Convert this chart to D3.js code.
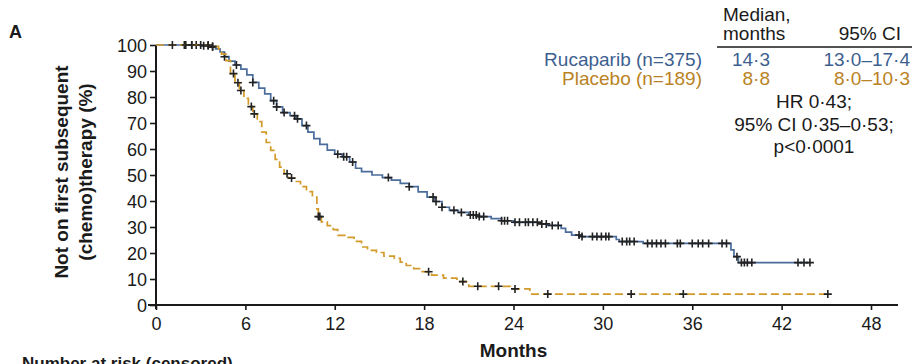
<!DOCTYPE html>
<html>
<head>
<meta charset="utf-8">
<script src="https://cdn.jsdelivr.net/npm/d3@7"></script>
<style>
  html, body { margin: 0; padding: 0; background: #fff; }
  svg { display: block; font-family: "Liberation Sans", Arial, sans-serif; }
</style>
</head>
<body>
<svg id="chart" width="917" height="364"></svg>
<script>
// Kaplan–Meier step points: [month, % not on first subsequent therapy]
const rucaparibSteps = [
  [0, 100], [3.0, 99.7], [3.6, 99.2], [4.0, 98.5], [4.3, 97.3], [4.6, 95.5], [4.9, 93.8],
  [5.3, 92.3], [5.7, 90.7], [6.1, 88.5], [6.5, 85.6], [6.9, 83.4], [7.3, 81.2], [7.7, 78.6],
  [8.1, 76.2], [8.5, 74.0], [9.0, 72.8], [9.4, 71.6], [9.8, 69.0], [10.2, 66.5], [10.6, 64.0],
  [11.0, 61.8], [11.5, 59.6], [12.0, 58.0], [12.5, 57.0], [13.0, 55.0], [13.4, 52.6],
  [13.8, 51.3], [14.5, 50.0], [15.2, 49.0], [15.8, 48.0], [16.4, 46.8], [17.0, 45.5],
  [17.6, 43.5], [18.2, 41.5], [18.7, 39.8], [19.2, 37.6], [19.7, 36.4], [20.3, 35.6],
  [21.0, 34.6], [21.7, 34.0], [22.5, 33.2], [23.2, 32.4], [24.0, 31.8], [25.8, 31.2],
  [26.3, 30.6], [27.2, 29.5], [27.5, 28.0], [27.9, 26.9], [28.6, 26.3], [30.9, 25.2],
  [31.1, 24.4], [32.7, 23.7], [38.6, 21.2], [38.8, 18.6], [39.1, 16.3]
];
const rucaparibEnd = 43.9;
const rucaparibCensored = [
  1.9, 2.4, 2.7, 3.2, 3.5, 3.8, 4.6, 5.4, 6.5, 7.9, 8.1, 8.6, 9.3, 9.5, 10.1, 12.2, 12.6,
  12.8, 13.2, 15.6, 17.0, 18.6, 18.8, 19.2, 20.0, 20.5, 21.1, 21.3, 21.5, 21.7, 22.0, 23.2,
  23.4, 23.6, 24.1, 24.4, 24.8, 25.0, 25.3, 25.6, 25.9, 26.2, 26.6, 27.0, 28.4, 28.6, 29.3,
  29.6, 29.9, 30.2, 30.4, 31.3, 31.6, 31.8, 32.1, 33.0, 33.3, 33.6, 33.9, 34.2, 35.0, 35.2,
  36.0, 36.4, 36.7, 37.1, 38.0, 38.3, 39.0, 39.3, 39.5, 39.7, 40.0, 43.1, 43.5, 43.9
];

const placeboSteps = [
  [0, 100], [3.8, 99.5], [4.2, 98.5], [4.4, 96.5], [4.7, 94.0], [5.0, 89.0], [5.3, 85.5],
  [5.6, 82.5], [5.9, 79.5], [6.2, 76.3], [6.5, 73.5], [6.8, 70.5], [7.1, 66.5], [7.4, 62.5],
  [7.7, 59.5], [8.0, 56.0], [8.3, 53.0], [8.6, 50.5], [8.9, 48.8], [9.3, 47.5], [9.7, 45.5],
  [10.1, 43.6], [10.5, 41.5], [10.8, 37.0], [10.9, 34.0], [11.1, 32.0], [11.5, 30.5],
  [11.9, 29.0], [12.2, 26.8], [12.9, 26.0], [13.3, 24.5], [13.8, 22.3], [14.2, 21.0],
  [14.8, 20.2], [15.3, 18.8], [16.0, 17.9], [16.4, 16.5], [16.8, 15.2], [17.3, 14.0],
  [17.8, 12.8], [18.5, 11.5], [19.3, 10.3], [20.2, 9.0], [21.0, 7.2], [23.8, 6.2], [25.1, 4.2]
];
const placeboEnd = 45.1;
const placeboCensored = [
  1.1, 2.0, 2.4, 3.0, 3.5, 3.8, 5.2, 5.5, 5.7, 6.4, 6.6, 8.8, 9.1, 10.9, 11.0,
  18.3, 20.6, 21.6, 23.0, 24.1, 26.3, 31.9, 35.4, 45.1
];

const xTicks = [0, 6, 12, 18, 24, 30, 36, 42, 48];
const yTicks = [0, 10, 20, 30, 40, 50, 60, 70, 80, 90, 100];

const legendHeader = ["Median,", "months", "95% CI"];
const legendRows = [
  { label: "Rucaparib (n=375)", median: "14·3", ci: "13·0–17·4", color: "#3d5f8f" },
  { label: "Placebo (n=189)", median: "8·8", ci: "8·0–10·3", color: "#b98224" }
];
const statsLines = ["HR 0·43;", "95% CI 0·35–0·53;", "p<0·0001"];

const BLUE = "#4a6d9c";
const ORANGE = "#d29a2a";
const INK = "#1a1a1a";

const svg = d3.select("#chart");

const x = d3.scaleLinear().domain([0, 48]).range([156, 871]);
const y = d3.scaleLinear().domain([0, 100]).range([305, 45]);

// Axes
const xAxis = svg.append("g")
  .attr("transform", `translate(0,${y(0)})`)
  .call(d3.axisBottom(x).tickValues(xTicks).tickSize(5).tickSizeOuter(0).tickPadding(4));
xAxis.select(".domain").remove();
xAxis.append("line")
  .attr("x1", 148).attr("x2", 898).attr("y1", 0).attr("y2", 0)
  .attr("stroke", INK).attr("stroke-width", 2);

const yAxis = svg.append("g")
  .attr("transform", `translate(${x(0)},0)`)
  .call(d3.axisLeft(y).tickValues(yTicks).tickSize(6).tickSizeOuter(0).tickPadding(3));
yAxis.select(".domain").remove();
yAxis.append("line")
  .attr("x1", 0).attr("x2", 0).attr("y1", y(100)).attr("y2", y(0) + 4)
  .attr("stroke", INK).attr("stroke-width", 2);

[xAxis, yAxis].forEach(g => {
  g.selectAll(".tick line").attr("stroke", INK).attr("stroke-width", 1.6);
  g.selectAll(".tick text")
    .attr("fill", INK)
    .style("font-size", "18px")
    .style("font-family", "'Liberation Sans', Arial, sans-serif");
});
xAxis.selectAll(".tick text").attr("dy", "0.9em");
yAxis.selectAll(".tick text").attr("dy", "0.34em");

// Step helpers
function stepValue(steps, t) {
  let v = steps[0][1];
  for (const [m, s] of steps) { if (m <= t) v = s; else break; }
  return v;
}
const stepLine = d3.line()
  .x(d => x(d[0]))
  .y(d => y(d[1]))
  .curve(d3.curveStepAfter);

function drawArm(steps, endMonth, censored, color, dash) {
  const pts = steps.concat([[endMonth, steps[steps.length - 1][1]]]);
  svg.append("path")
    .datum(pts)
    .attr("d", stepLine)
    .attr("fill", "none")
    .attr("stroke", color)
    .attr("stroke-width", 1.7)
    .attr("stroke-dasharray", dash || null);

  const marks = svg.append("g");
  censored.forEach(t => {
    const cx = x(t), cy = y(stepValue(steps, t));
    marks.append("path")
      .attr("d", `M${cx - 4},${cy}H${cx + 4}M${cx},${cy - 4}V${cy + 4}`)
      .attr("stroke", "#222")
      .attr("stroke-width", 1.6)
      .attr("fill", "none");
  });
}

drawArm(rucaparibSteps, rucaparibEnd, rucaparibCensored, BLUE, null);
drawArm(placeboSteps, placeboEnd, placeboCensored, ORANGE, "8,4");

// Axis titles
svg.append("text")
  .attr("transform", `translate(68,172) rotate(-90)`)
  .attr("text-anchor", "middle")
  .style("font-size", "19px").style("font-weight", "bold").attr("fill", INK)
  .text("Not on first subsequent");
svg.append("text")
  .attr("transform", `translate(92,172) rotate(-90)`)
  .attr("text-anchor", "middle")
  .style("font-size", "19px").style("font-weight", "bold").attr("fill", INK)
  .text("(chemo)therapy (%)");

svg.append("text")
  .attr("x", x(24)).attr("y", 357)
  .attr("text-anchor", "middle")
  .style("font-size", "19px").style("font-weight", "bold").attr("fill", INK)
  .text("Months");

svg.append("text")
  .attr("x", 9).attr("y", 38)
  .style("font-size", "18px").style("font-weight", "bold").attr("fill", INK)
  .text("A");

svg.append("text")
  .attr("x", 22).attr("y", 369)
  .style("font-size", "17px").style("font-weight", "bold").attr("fill", INK)
  .text("Number at risk (censored)");

// Median table
const leg = svg.append("g").style("font-size", "19px");
leg.append("text").attr("x", 723).attr("y", 21).attr("fill", INK).text(legendHeader[0]);
leg.append("text").attr("x", 723).attr("y", 40).attr("fill", INK).text(legendHeader[1]);
leg.append("text").attr("x", 901).attr("y", 40).attr("text-anchor", "end").attr("fill", INK).text(legendHeader[2]);
leg.append("line")
  .attr("x1", 717).attr("x2", 912).attr("y1", 47).attr("y2", 47)
  .attr("stroke", INK).attr("stroke-width", 1.4);

legendRows.forEach((r, i) => {
  const by = 66 + i * 19;
  leg.append("text").attr("x", 702).attr("y", by).attr("text-anchor", "end").attr("fill", r.color).text(r.label);
  leg.append("text").attr("x", 770).attr("y", by).attr("text-anchor", "end").attr("fill", r.color).text(r.median);
  leg.append("text").attr("x", 910).attr("y", by).attr("text-anchor", "end").attr("fill", r.color).text(r.ci);
});

statsLines.forEach((s, i) => {
  leg.append("text")
    .attr("x", 814).attr("y", 108 + i * 22.5)
    .attr("text-anchor", "middle").attr("fill", INK)
    .text(s);
});
</script>
</body>
</html>
